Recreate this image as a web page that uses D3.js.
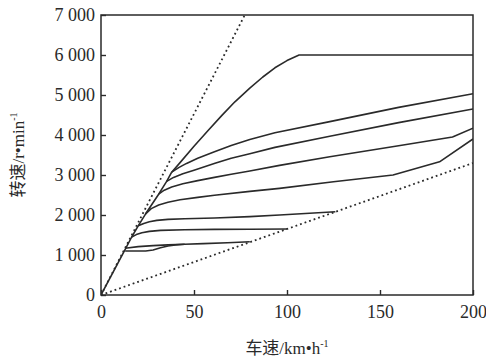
<!DOCTYPE html>
<html>
<head>
<meta charset="utf-8">
<script src="https://cdn.jsdelivr.net/npm/d3@7"></script>
<style>
  html, body { margin: 0; padding: 0; background: #fff; }
  svg { display: block; }
  text { font-family: "Liberation Serif", "Noto Sans CJK SC", serif; fill: #2a2a2a; }
</style>
</head>
<body>
<svg id="chart" width="486" height="361"></svg>
<script>
// ---- data (车速 km/h, 转速 r/min) ----
const speedTicks = [0, 50, 100, 150, 200];
const rpmTicks = [0, 1000, 2000, 3000, 4000, 5000, 6000, 7000];
const rpmTickLabels = ["0", "1 000", "2 000", "3 000", "4 000", "5 000", "6 000", "7 000"];

// dotted limit lines
const upperLimit = [[0, 0], [77.3, 7000]];
const lowerLimit = [[0, 0], [200, 3300]];

// solid envelope rising from origin
const envelope = [[0, 0], [13, 1140], [16.5, 1450], [20, 1730], [24, 2030], [31, 2520], [35.3, 2840], [38, 3070]];

// shift curves
const curveTop = [[38, 3070], [42.5, 3310], [50, 3720], [57.7, 4120], [65, 4490], [72, 4830], [80, 5170], [87, 5450], [93.5, 5680], [100, 5860], [106.5, 6000], [200, 6000]];
const curve2 = [[38, 3070], [42, 3190], [46, 3290], [52, 3420], [61, 3583], [70, 3740], [80, 3890], [93.5, 4055], [123, 4335], [160, 4690], [200, 5030]];
const curve3 = [[35.3, 2840], [39, 2940], [44, 3030], [50, 3120], [61.3, 3292], [70, 3420], [80, 3530], [93.5, 3690], [123, 3970], [160, 4310], [200, 4650]];
const curve4 = [[31, 2520], [34, 2620], [38, 2700], [44, 2780], [52, 2860], [61, 2940], [70, 3020], [80, 3100], [96, 3240], [123, 3455], [160, 3730], [189, 3950], [200, 4170]];
const curve5 = [[24, 2030], [27, 2160], [31, 2250], [36, 2320], [42.5, 2380], [52, 2440], [61, 2495], [80, 2590], [96, 2665], [125, 2830], [157, 3000], [182, 3330], [200, 3900]];
const curve6 = [[20, 1730], [23, 1790], [26, 1830], [30, 1865], [36, 1890], [45, 1905], [61, 1925], [80, 1960], [96, 2000], [126, 2080]];
const curve7 = [[16.5, 1450], [19, 1510], [22, 1555], [26, 1590], [32, 1615], [45, 1632], [61, 1640], [80, 1645], [100, 1650]];
const curve8 = [[13, 1170], [20, 1210], [28, 1235], [36, 1252], [45, 1268], [55, 1285], [68, 1308], [80, 1330]];
const curve9 = [[13, 1100], [18, 1100], [24, 1100], [28, 1125], [32, 1180], [36, 1225], [40, 1252], [45, 1268]];

const solidCurves = [envelope, curveTop, curve2, curve3, curve4, curve5, curve6, curve7, curve8, curve9];
const dottedCurves = [upperLimit, lowerLimit];

// ---- layout ----
const svg = d3.select("#chart");
const mLeft = 101, mRight = 473, mTop = 15, mBottom = 295;

const x = d3.scaleLinear().domain([0, 200]).range([mLeft, mRight]);
const y = d3.scaleLinear().domain([0, 7000]).range([mBottom, mTop]);

const ink = "#2a2a2a";

const line = d3.line().x(d => x(d[0])).y(d => y(d[1])).curve(d3.curveLinear);

const clipId = "plotclip";
svg.append("clipPath").attr("id", clipId)
  .append("rect").attr("x", mLeft).attr("y", mTop).attr("width", mRight - mLeft).attr("height", mBottom - mTop);

const plot = svg.append("g").attr("clip-path", `url(#${clipId})`);

plot.selectAll("path.dot").data(dottedCurves).enter().append("path")
  .attr("class", "dot")
  .attr("d", line)
  .attr("fill", "none")
  .attr("stroke", ink)
  .attr("stroke-width", 1.8)
  .attr("stroke-dasharray", "1.8,3");

plot.selectAll("path.solid").data(solidCurves).enter().append("path")
  .attr("class", "solid")
  .attr("d", line)
  .attr("fill", "none")
  .attr("stroke", ink)
  .attr("stroke-width", 1.6)
  .attr("stroke-linejoin", "round");

// frame
svg.append("rect")
  .attr("x", mLeft).attr("y", mTop).attr("width", mRight - mLeft).attr("height", mBottom - mTop)
  .attr("fill", "none").attr("stroke", ink).attr("stroke-width", 1.5);

// axes
const xAxis = d3.axisBottom(x).tickValues(speedTicks).tickFormat(d3.format("d"))
  .tickSizeInner(-5).tickSizeOuter(0).tickPadding(10);
const yAxis = d3.axisLeft(y).tickValues(rpmTicks).tickFormat((d, i) => rpmTickLabels[i])
  .tickSizeInner(-5).tickSizeOuter(0).tickPadding(6);

const gx = svg.append("g").attr("transform", `translate(0,${mBottom})`).call(xAxis);
const gy = svg.append("g").attr("transform", `translate(${mLeft},0)`).call(yAxis);

[gx, gy].forEach(g => {
  g.select(".domain").remove();
  g.selectAll(".tick line").attr("stroke", ink).attr("stroke-width", 1.4);
  g.selectAll(".tick text")
    .attr("fill", ink)
    .style("font-family", "'Liberation Serif', serif")
    .style("font-size", "18px");
});

// axis titles
const xt = svg.append("text")
  .attr("x", (mLeft + mRight) / 2).attr("y", 354)
  .attr("text-anchor", "middle")
  .style("font-size", "17px");
xt.append("tspan").text("车速/km•h");
xt.append("tspan").attr("dy", -7).style("font-size", "10px").text("-1");

const yt = svg.append("text")
  .attr("transform", `translate(24,${(mTop + mBottom) / 2}) rotate(-90)`)
  .attr("text-anchor", "middle")
  .style("font-size", "17px");
yt.append("tspan").text("转速/r•min");
yt.append("tspan").attr("dy", -7).style("font-size", "10px").text("-1");
</script>
</body>
</html>
